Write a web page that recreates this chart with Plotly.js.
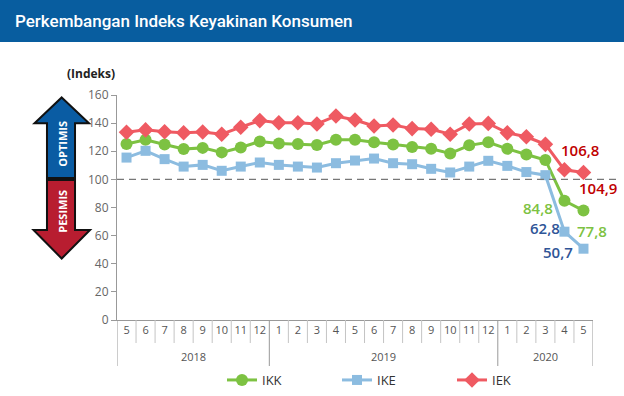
<!DOCTYPE html>
<html>
<head>
<meta charset="utf-8">
<script src="https://cdn.plot.ly/plotly-3.0.1.min.js"></script>
<style>html,body{margin:0;padding:0;background:#fff;}#chart{width:624px;height:396px;}</style>
</head>
<body>
<div id="chart"></div>
<script>
// ---- data ----
const years  = ["2018","2018","2018","2018","2018","2018","2018","2018",
                "2019","2019","2019","2019","2019","2019","2019","2019","2019","2019","2019","2019",
                "2020","2020","2020","2020","2020"];
const months = ["5","6","7","8","9","10","11","12",
                "1","2","3","4","5","6","7","8","9","10","11","12",
                "1","2","3","4","5"];
const yearLabels = ["2018","2019","2020"];
const ikk = [125.1,128.1,124.8,121.6,122.4,119.2,122.7,127.0,
             125.5,125.1,124.5,128.1,128.2,126.4,124.8,123.1,121.8,118.4,124.2,126.4,
             121.7,117.7,113.8,84.8,77.8];
const ike = [115.5,120.3,114.4,109.1,110.3,106.1,109.1,112.0,
             110.3,109.1,108.4,111.5,113.4,114.8,111.5,110.8,107.5,104.9,109.1,113.2,
             109.6,105.2,103.0,62.8,50.7];
const iek = [133.5,135.2,133.9,133.2,133.7,132.1,137.1,141.8,
             140.3,140.3,139.4,145.1,142.2,138.0,138.7,136.1,135.6,132.1,139.4,139.8,
             133.1,130.3,124.9,106.8,104.9];
const seriesNames = ["IKK","IKE","IEK"];
const titleText = "Perkembangan Indeks Keyakinan Konsumen";
const unitText = "(Indeks)";

// ---- layout helpers (pixels -> paper) ----
const L = 117, R = 31, T = 95, B = 76, W = 624, H = 396;
const PW = W - L - R, PH = H - T - B;
const px = x => (x - L) / PW;
const py = y => (H - B - y) / PH;
function pathFrom(pts){
  return pts.map((p,i)=>(i?'L':'M')+px(p[0]).toFixed(4)+','+py(p[1]).toFixed(4)).join(' ')+' Z';
}

const fmt = v => v.toFixed(1).replace('.', ',');
const cats = years.map((y,i) => y + '-' + months[i]);

const traces = [
  {name: seriesNames[0], x: cats, y: ikk, type:'scatter', mode:'lines+markers',
   line:{color:'#7dc242', width:3}, marker:{symbol:'circle', size:12, color:'#7dc242'}},
  {name: seriesNames[1], x: cats, y: ike, type:'scatter', mode:'lines+markers',
   line:{color:'#8cbce0', width:3}, marker:{symbol:'square', size:10, color:'#8cbce0'}},
  {name: seriesNames[2], x: cats, y: iek, type:'scatter', mode:'lines+markers',
   line:{color:'#ef5a62', width:3}, marker:{symbol:'diamond', size:12, color:'#ef5a62'}}
];

const last = months.length - 1, prev = months.length - 2;
const lblFont = (c) => ({family:'Open Sans', size:15, color:c, weight:600});
const annotations = [
  {x: prev, y: iek[prev], text: fmt(iek[prev]), xshift:16, yshift:20, font: lblFont('#c00000')},
  {x: last, y: iek[last], text: fmt(iek[last]), xshift:15, yshift:-16, font: lblFont('#c00000')},
  {x: prev, y: ikk[prev], text: fmt(ikk[prev]), xshift:-26, yshift:-7, font: lblFont('#7dc242')},
  {x: last, y: ikk[last], text: fmt(ikk[last]), xshift:9, yshift:-20, font: lblFont('#7dc242')},
  {x: prev, y: ike[prev], text: fmt(ike[prev]), xshift:-19, yshift:4, font: lblFont('#2f5597')},
  {x: last, y: ike[last], text: fmt(ike[last]), xshift:-25, yshift:-3, font: lblFont('#2f5597')}
].map(a => Object.assign({xref:'x', yref:'y', showarrow:false, xanchor:'center', yanchor:'middle'}, a));

annotations.push(
  {xref:'paper', yref:'paper', x: px(91), y: py(73), text: unitText, showarrow:false,
   xanchor:'center', yanchor:'middle', font:{family:'Open Sans', size:12, color:'#222', weight:700}},
  {xref:'paper', yref:'paper', x: px(61.7), y: py(144), text:'OPTIMIS', textangle:-90, showarrow:false,
   xanchor:'center', yanchor:'middle', font:{family:'Open Sans', size:11, color:'#fff', weight:700}},
  {xref:'paper', yref:'paper', x: px(61.7), y: py(211), text:'PESIMIS', textangle:-90, showarrow:false,
   xanchor:'center', yanchor:'middle', font:{family:'Open Sans', size:11, color:'#fff', weight:700}}
);

// year group labels and boundaries
const yearBounds = [-0.5];
yearLabels.forEach(yl => {
  const idx = years.map((y,i)=>y===yl?i:-1).filter(i=>i>=0);
  const a = idx[0], b = idx[idx.length-1];
  yearBounds.push(b + 0.5);
  annotations.push({xref:'x', yref:'paper', x:(a+b)/2, y: py(356), text: yl, showarrow:false,
    xanchor:'center', yanchor:'middle', font:{family:'Open Sans', size:11, color:'#555'}});
});

const shapes = [
  {type:'rect', xref:'paper', yref:'paper', x0: px(0), x1: px(624), y0: py(0), y1: py(42),
   fillcolor:'#085d9f', line:{width:0}, layer:'below'},
  {type:'line', xref:'paper', yref:'y', x0: 0, x1: px(620), y0: 100, y1: 100,
   line:{color:'#777', width:1.3, dash:'7px,5px'}},
  {type:'path', xref:'paper', yref:'paper', fillcolor:'#0a5ca3', line:{color:'#111', width:2},
   path: pathFrom([[61.7,97.5],[89,123.3],[75,123.3],[75,178],[47,178],[47,123.3],[34.5,123.3]])},
  {type:'path', xref:'paper', yref:'paper', fillcolor:'#b81d30', line:{color:'#111', width:2},
   path: pathFrom([[47,180],[75,180],[75,230],[90,230],[61.7,258.5],[33.5,230],[47,230]])}
];
// month separators
for (let i = 0; i < months.length - 1; i++) {
  const b = i + 0.5;
  if (yearBounds.includes(b)) continue;
  shapes.push({type:'line', xref:'x', yref:'paper', x0:b, x1:b, y0: py(320), y1: py(343),
    line:{color:'#c4c4c4', width:1}});
}
yearBounds.forEach(b => shapes.push({type:'line', xref:'x', yref:'paper', x0:b, x1:b,
  y0: py(320), y1: py(366), line:{color:'#999', width:1}}));

const layout = {
  width: W, height: H,
  margin: {l:L, r:R, t:T, b:B, autoexpand:false},
  paper_bgcolor:'#fff', plot_bgcolor:'#fff',
  font: {family:'Open Sans', color:'#444'},
  title: {text: titleText, xref:'container', yref:'container', x: 15/W, xanchor:'left',
          y: 1 - 21/H, yanchor:'middle', font:{family:'Roboto', size:17, color:'#fff', weight:500}},
  showlegend: true,
  legend: {orientation:'h', xref:'container', yref:'container', x: 222/W, xanchor:'left',
           y: 1 - 380/H, yanchor:'middle',
           entrywidth:70, entrywidthmode:'pixels', font:{family:'Open Sans', size:13, color:'#333'},
           bgcolor:'rgba(0,0,0,0)'},
  xaxis: {type:'category', range:[-0.5, last + 0.5], showline:true, linecolor:'#999', linewidth:1,
          ticks:'', tickmode:'array', tickvals: cats, ticktext: months, tickangle:0,
          automargin:false, tickfont:{family:'Open Sans', size:11, color:'#555'},
          showgrid:false, zeroline:false},
  yaxis: {range:[0,160], dtick:20, showline:true, linecolor:'#999', linewidth:1, automargin:false,
          ticks:'outside', ticklen:5, tickcolor:'#999', showgrid:false, zeroline:false,
          tickfont:{family:'Open Sans', size:12, color:'#666'}},
  shapes: shapes,
  annotations: annotations
};

Plotly.newPlot('chart', traces, layout, {staticPlot:true, displayModeBar:false});
</script>
</body>
</html>
